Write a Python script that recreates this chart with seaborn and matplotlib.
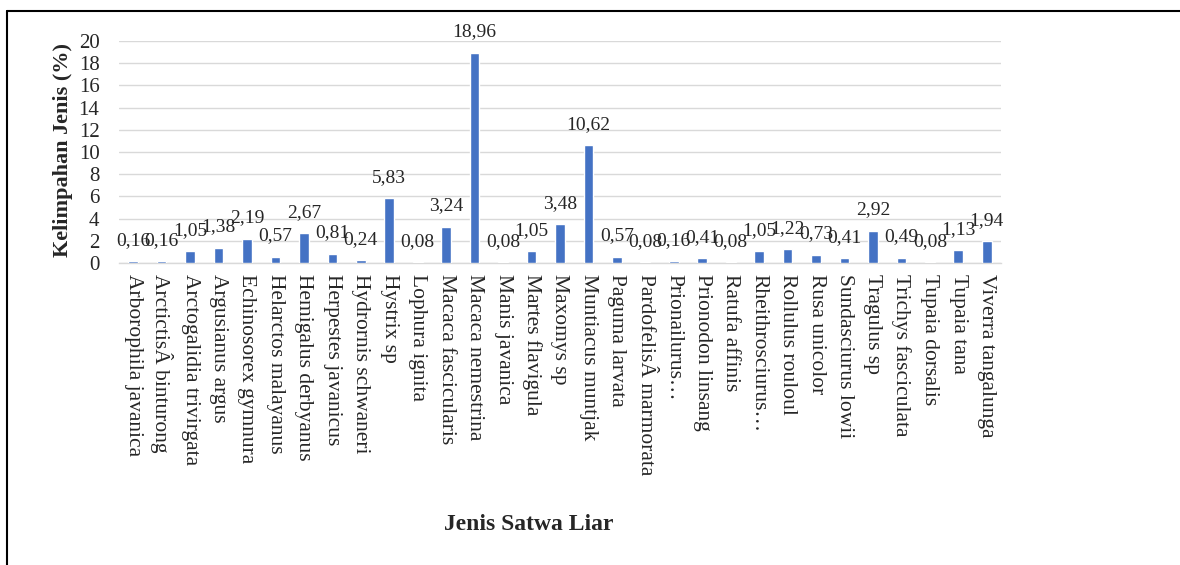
import matplotlib
matplotlib.use("Agg")
import matplotlib.pyplot as plt
import seaborn as sns
import pandas as pd
from matplotlib.lines import Line2D

categories = [
    "Arborophila javanica", "ArctictisÂ binturong", "Arctogalidia trivirgata",
    "Argusianus argus", "Echinosorex gymnura", "Helarctos malayanus",
    "Hemigalus derbyanus", "Herpestes javanicus", "Hydrornis schwaneri",
    "Hystrix sp", "Lophura ignita", "Macaca fascicularis", "Macaca nemestrina",
    "Manis javanica", "Martes flavigula", "Maxomys sp", "Muntiacus muntjak",
    "Paguma larvata", "PardofelisÂ marmorata", "Prionailurus…",
    "Prionodon linsang", "Ratufa affinis", "Rheithrosciurus…",
    "Rollulus rouloul", "Rusa unicolor", "Sundasciurus lowii", "Tragulus sp",
    "Trichys fasciculata", "Tupaia dorsalis", "Tupaia tana", "Viverra tangalunga",
]
values = [
    0.16, 0.16, 1.05, 1.38, 2.19, 0.57, 2.67, 0.81, 0.24, 5.83, 0.08, 3.24,
    18.96, 0.08, 1.05, 3.48, 10.62, 0.57, 0.08, 0.16, 0.41, 0.08, 1.05, 1.22,
    0.73, 0.41, 2.92, 0.49, 0.08, 1.13, 1.94,
]
yticks = [0, 2, 4, 6, 8, 10, 12, 14, 16, 18, 20]

sns.set_theme(style="white")
plt.rcParams['font.family'] = ['Liberation Serif', 'DejaVu Serif']

df = pd.DataFrame({"Jenis": categories, "Nilai": values})

fig = plt.figure(figsize=(11.8, 5.65), dpi=100)
ax = fig.add_axes([0.1008, 0.5345, 0.7475, 0.393])
sns.barplot(data=df, x="Jenis", y="Nilai", color="#4472C4", width=0.34,
            saturation=1, ax=ax, zorder=3)

ax.set_ylim(0, 20)
ax.set_yticks(yticks)
ax.set_yticklabels([str(t) for t in yticks], fontsize=15)
ax.set_xlim(-0.5, len(categories) - 0.5)
ax.tick_params(axis='x', length=0, pad=8, labelsize=15.5)
ax.tick_params(axis='y', length=0, pad=14)
for lab in ax.get_xticklabels():
    lab.set_rotation(270)
    lab.set_va('top')
    lab.set_ha('center')

ax.yaxis.grid(True, color="#D9D9D9", linewidth=1, zorder=0)
for s in ["top", "right", "left"]:
    ax.spines[s].set_visible(False)
ax.spines["bottom"].set_color("#D9D9D9")
ax.spines["bottom"].set_linewidth(1)

labels = [f"{v:.2f}".replace(".", ",") for v in values]
ax.bar_label(ax.containers[0], labels=labels, padding=9, fontsize=14)

ax.set_xlabel("")
ax.set_ylabel("")
fig.text(529 / 1180, 1 - 525 / 565, "Jenis Satwa Liar", fontsize=17,
         fontweight="bold", ha="center", va="center")
fig.text(63 / 1180, 1 - 150 / 565, "Kelimpahan Jenis (%)", fontsize=16,
         fontweight="bold", ha="center", va="center", rotation=90)

# frame around the figure (top and left visible)
fig.add_artist(Line2D([7 / 1180, 1.0], [1 - 11 / 565, 1 - 11 / 565],
                      transform=fig.transFigure, color="black", linewidth=1.5))
fig.add_artist(Line2D([7 / 1180, 7 / 1180], [0, 1 - 11 / 565],
                      transform=fig.transFigure, color="black", linewidth=1.5))

fig.savefig("out.png", dpi=100)
